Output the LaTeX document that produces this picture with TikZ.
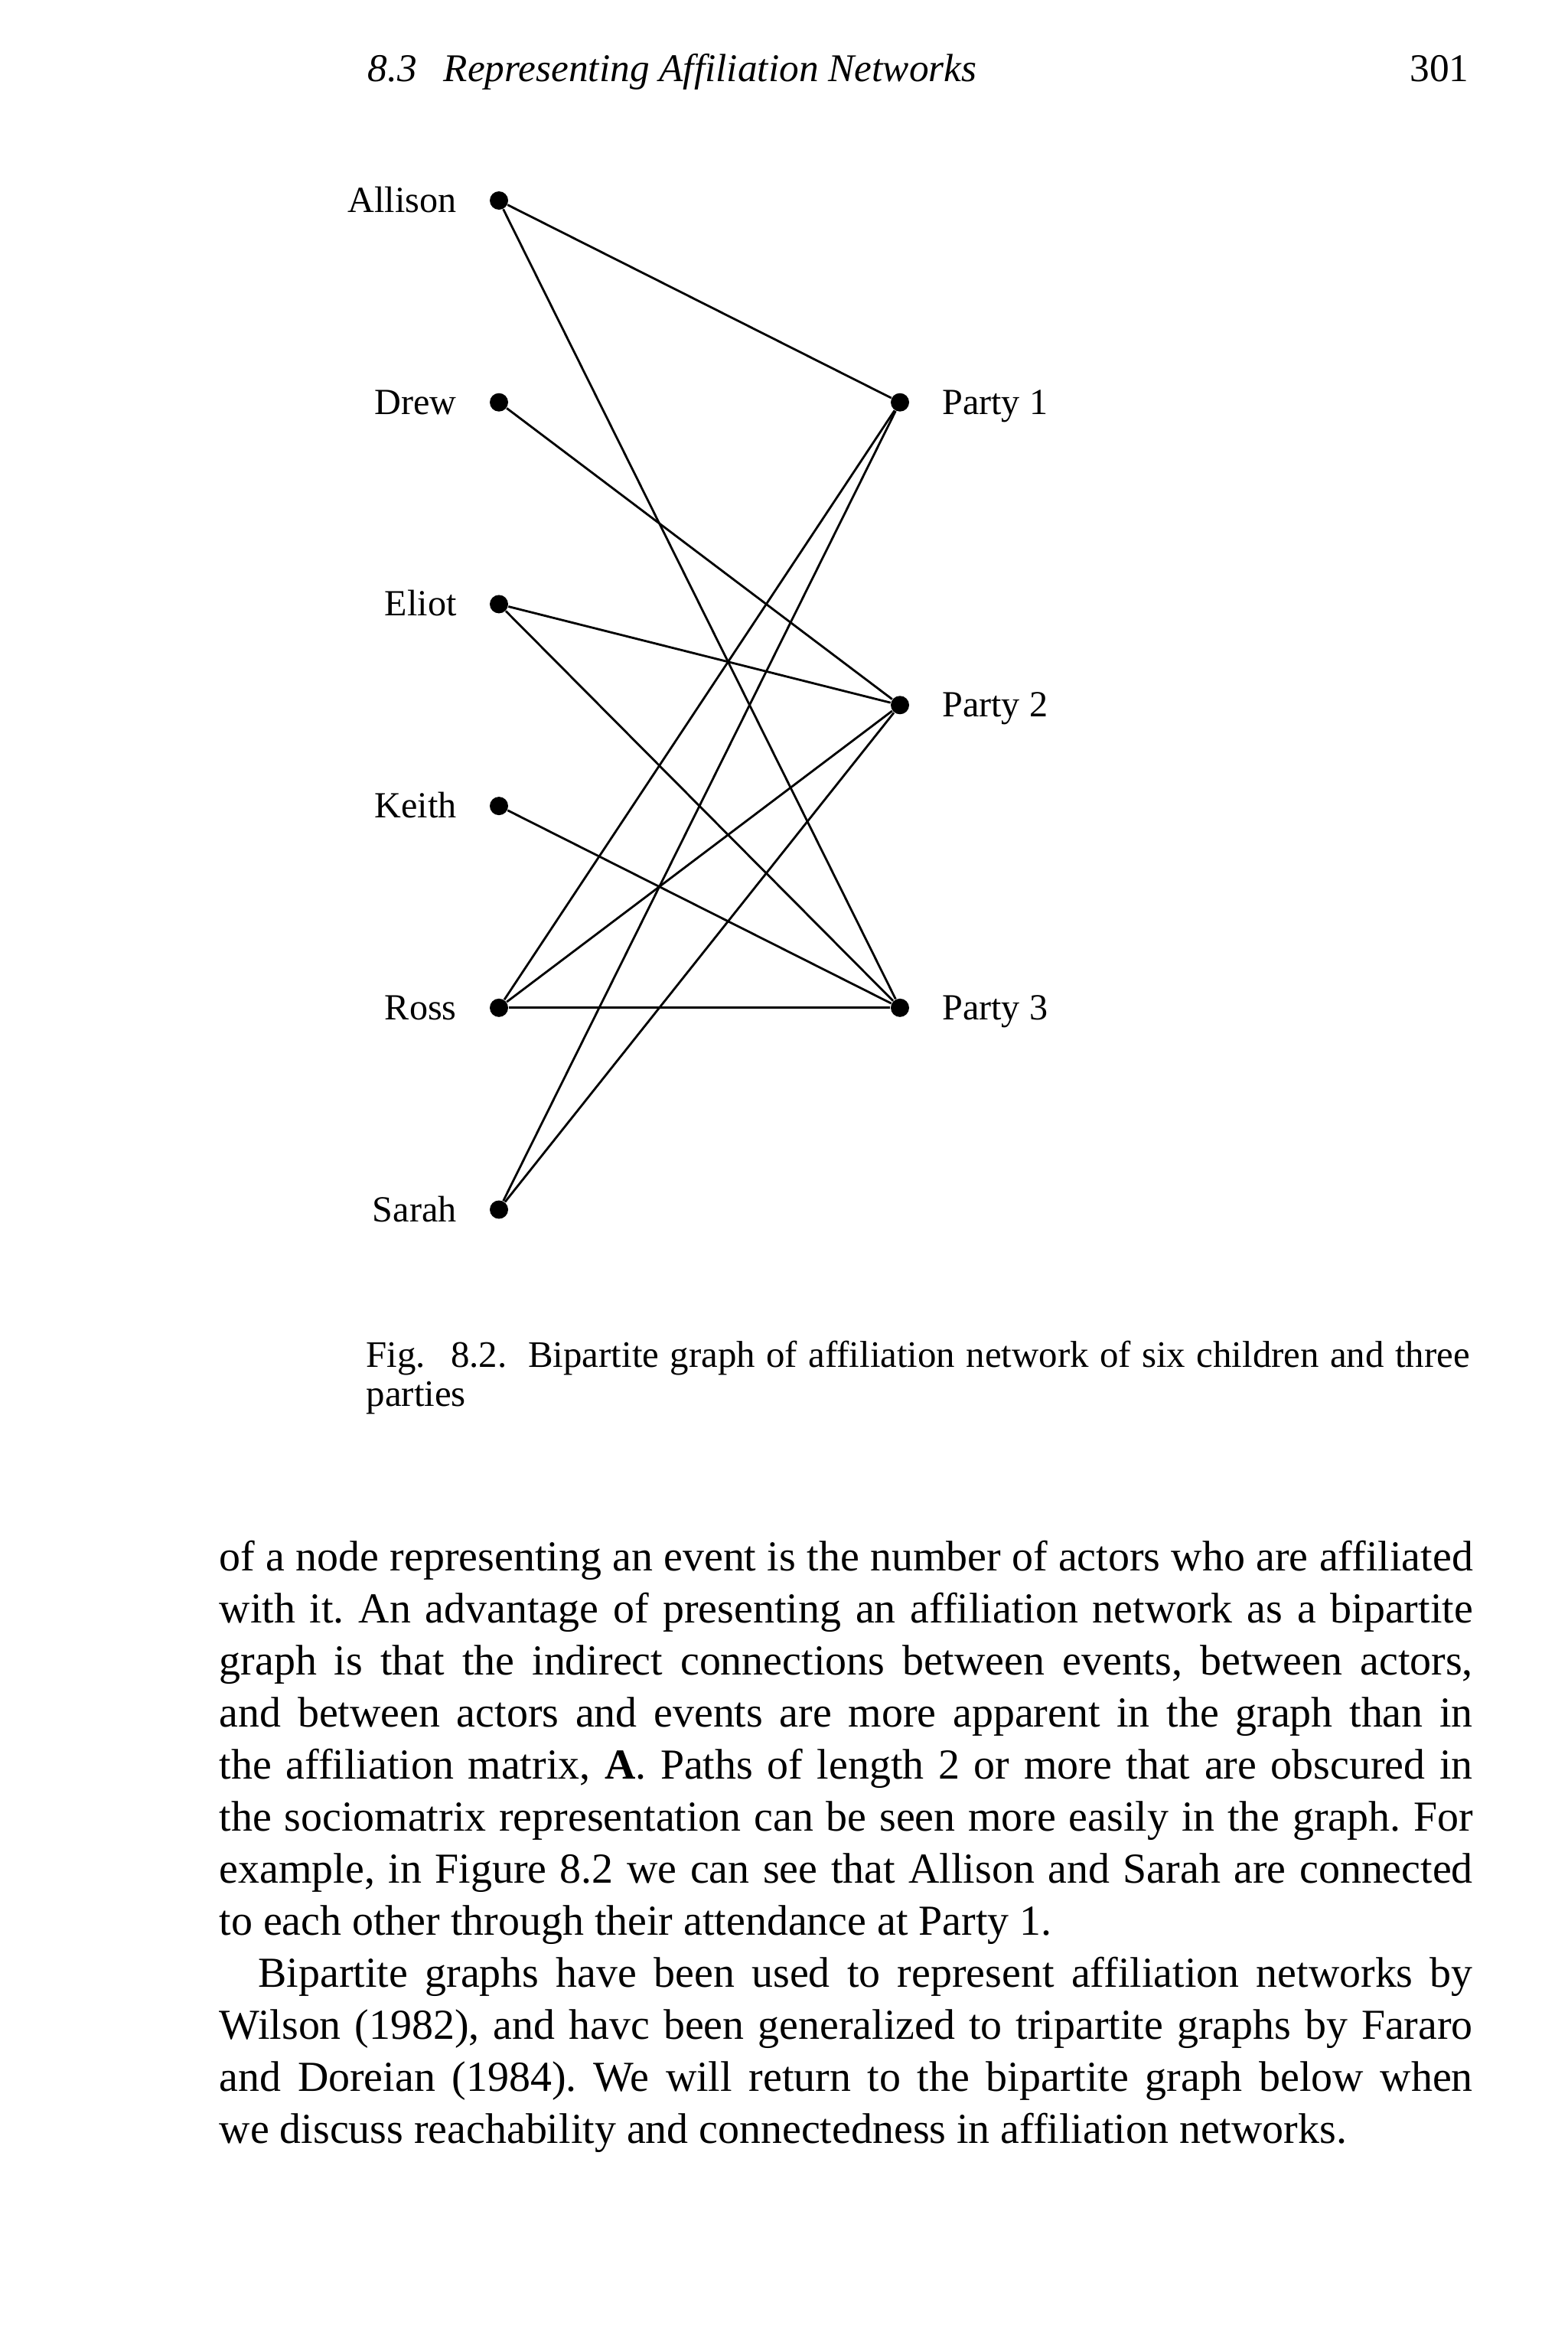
\documentclass[tikz,border=0pt]{standalone}
\usepackage{fontspec}
\setmainfont{Liberation Serif}
\usetikzlibrary{positioning, calc}
\frenchspacing

\newcommand{\bodyfont}{\fontsize{15.9}{19.3}\selectfont}
\newcommand{\capfont}{\fontsize{13.9}{14.5}\selectfont}
\newcommand{\labfont}{\fontsize{13.7}{16}\selectfont}
\newcommand{\headfont}{\fontsize{14.6}{17}\selectfont}
\newlength{\bodywidth}\setlength{\bodywidth}{16.38cm}
\newlength{\capwidth}\setlength{\capwidth}{14.42cm}
\newcommand{\jline}[1]{\makebox[\bodywidth][s]{#1}}
\newcommand{\lline}[1]{\makebox[\bodywidth][l]{#1}}

\tikzstyle{bullet} = [circle, fill=black, inner sep=0pt, minimum size=0.24cm]
\tikzstyle{childname} = [font=\labfont, inner sep=0pt, text height=0.31cm, text depth=0pt]
\tikzstyle{tie} = [line width=0.8pt]
\tikzstyle{bodyline} = [font=\bodyfont, inner sep=0pt, text height=0.42cm, text depth=0.14cm, node distance=0.68cm]
\tikzstyle{capline} = [font=\capfont, inner sep=0pt, text height=0.36cm, text depth=0.12cm, node distance=0.51cm]

\begin{document}
\begin{tikzpicture}[node distance=2.637cm]
\useasboundingbox (0,0) rectangle (20.48,-30.51);

% Running head
\node (head) [font=\headfont, inner sep=0pt, anchor=base west] at (4.80,-1.06) {\itshape 8.3\hspace{0.35cm}Representing Affiliation Networks};
\node (pagenum) [font=\headfont, inner sep=0pt, anchor=base east] at (19.20,-1.06) {301};

% Children
\node (allison) [bullet] at (6.52,-2.62) {};
\node (drew) [bullet, below of=allison] {};
\node (eliot) [bullet, below of=drew] {};
\node (keith) [bullet, below of=eliot] {};
\node (ross) [bullet, below of=keith] {};
\node (sarah) [bullet, below of=ross] {};

% Parties
\node (party1) [bullet, right of=drew, xshift=2.603cm] {};
\node (party3) [bullet, right of=ross, xshift=2.603cm] {};
\node (party2) [bullet] at ($(party1)!0.5!(party3)$) {};

% Names
\node (allisonname) [childname, left=0.42cm of allison] {Allison};
\node (drewname) [childname, left=0.42cm of drew] {Drew};
\node (eliotname) [childname, left=0.42cm of eliot] {Eliot};
\node (keithname) [childname, left=0.42cm of keith] {Keith};
\node (rossname) [childname, left=0.42cm of ross] {Ross};
\node (sarahname) [childname, left=0.42cm of sarah] {Sarah};
\node (party1name) [childname, right=0.42cm of party1] {Party 1};
\node (party2name) [childname, right=0.42cm of party2] {Party 2};
\node (party3name) [childname, right=0.42cm of party3] {Party 3};

% Ties
\draw [tie] (allison) -- (party1);
\draw [tie] (allison) -- (party3);
\draw [tie] (drew) -- (party2);
\draw [tie] (eliot) -- (party2);
\draw [tie] (eliot) -- (party3);
\draw [tie] (keith) -- (party3);
\draw [tie] (ross) -- (party1);
\draw [tie] (ross) -- (party2);
\draw [tie] (ross) -- (party3);
\draw [tie] (sarah) -- (party1);
\draw [tie] (sarah) -- (party2);

% Caption
\node (cap1) [capline, anchor=base west] at (4.78,-17.86) {\makebox[\capwidth][s]{Fig.\hspace{0.33cm}8.2.\hspace{0.28cm}Bipartite graph of affiliation network of six children and three}};
\node (cap2) [capline, below of=cap1] {\makebox[\capwidth][l]{parties}};

% Text
\node (line1) [bodyline, anchor=base west] at (2.86,-20.52) {\jline{of a node representing an event is the number of actors who are affiliated}};
\node (line2) [bodyline, below of=line1] {\jline{with it. An advantage of presenting an affiliation network as a bipartite}};
\node (line3) [bodyline, below of=line2] {\jline{graph is that the indirect connections between events, between actors,}};
\node (line4) [bodyline, below of=line3] {\jline{and between actors and events are more apparent in the graph than in}};
\node (line5) [bodyline, below of=line4] {\jline{the affiliation matrix, \textbf{A}. Paths of length 2 or more that are obscured in}};
\node (line6) [bodyline, below of=line5] {\jline{the sociomatrix representation can be seen more easily in the graph. For}};
\node (line7) [bodyline, below of=line6] {\jline{example, in Figure 8.2 we can see that Allison and Sarah are connected}};
\node (line8) [bodyline, below of=line7] {\lline{to each other through their attendance at Party 1.}};
\node (line9) [bodyline, below of=line8] {\jline{\hspace*{0.51cm}Bipartite graphs have been used to represent affiliation networks by}};
\node (line10) [bodyline, below of=line9] {\jline{Wilson (1982), and havc been generalized to tripartite graphs by Fararo}};
\node (line11) [bodyline, below of=line10] {\jline{and Doreian (1984). We will return to the bipartite graph below when}};
\node (line12) [bodyline, below of=line11] {\lline{we discuss reachability and connectedness in affiliation networks.}};

\end{tikzpicture}
\end{document}
